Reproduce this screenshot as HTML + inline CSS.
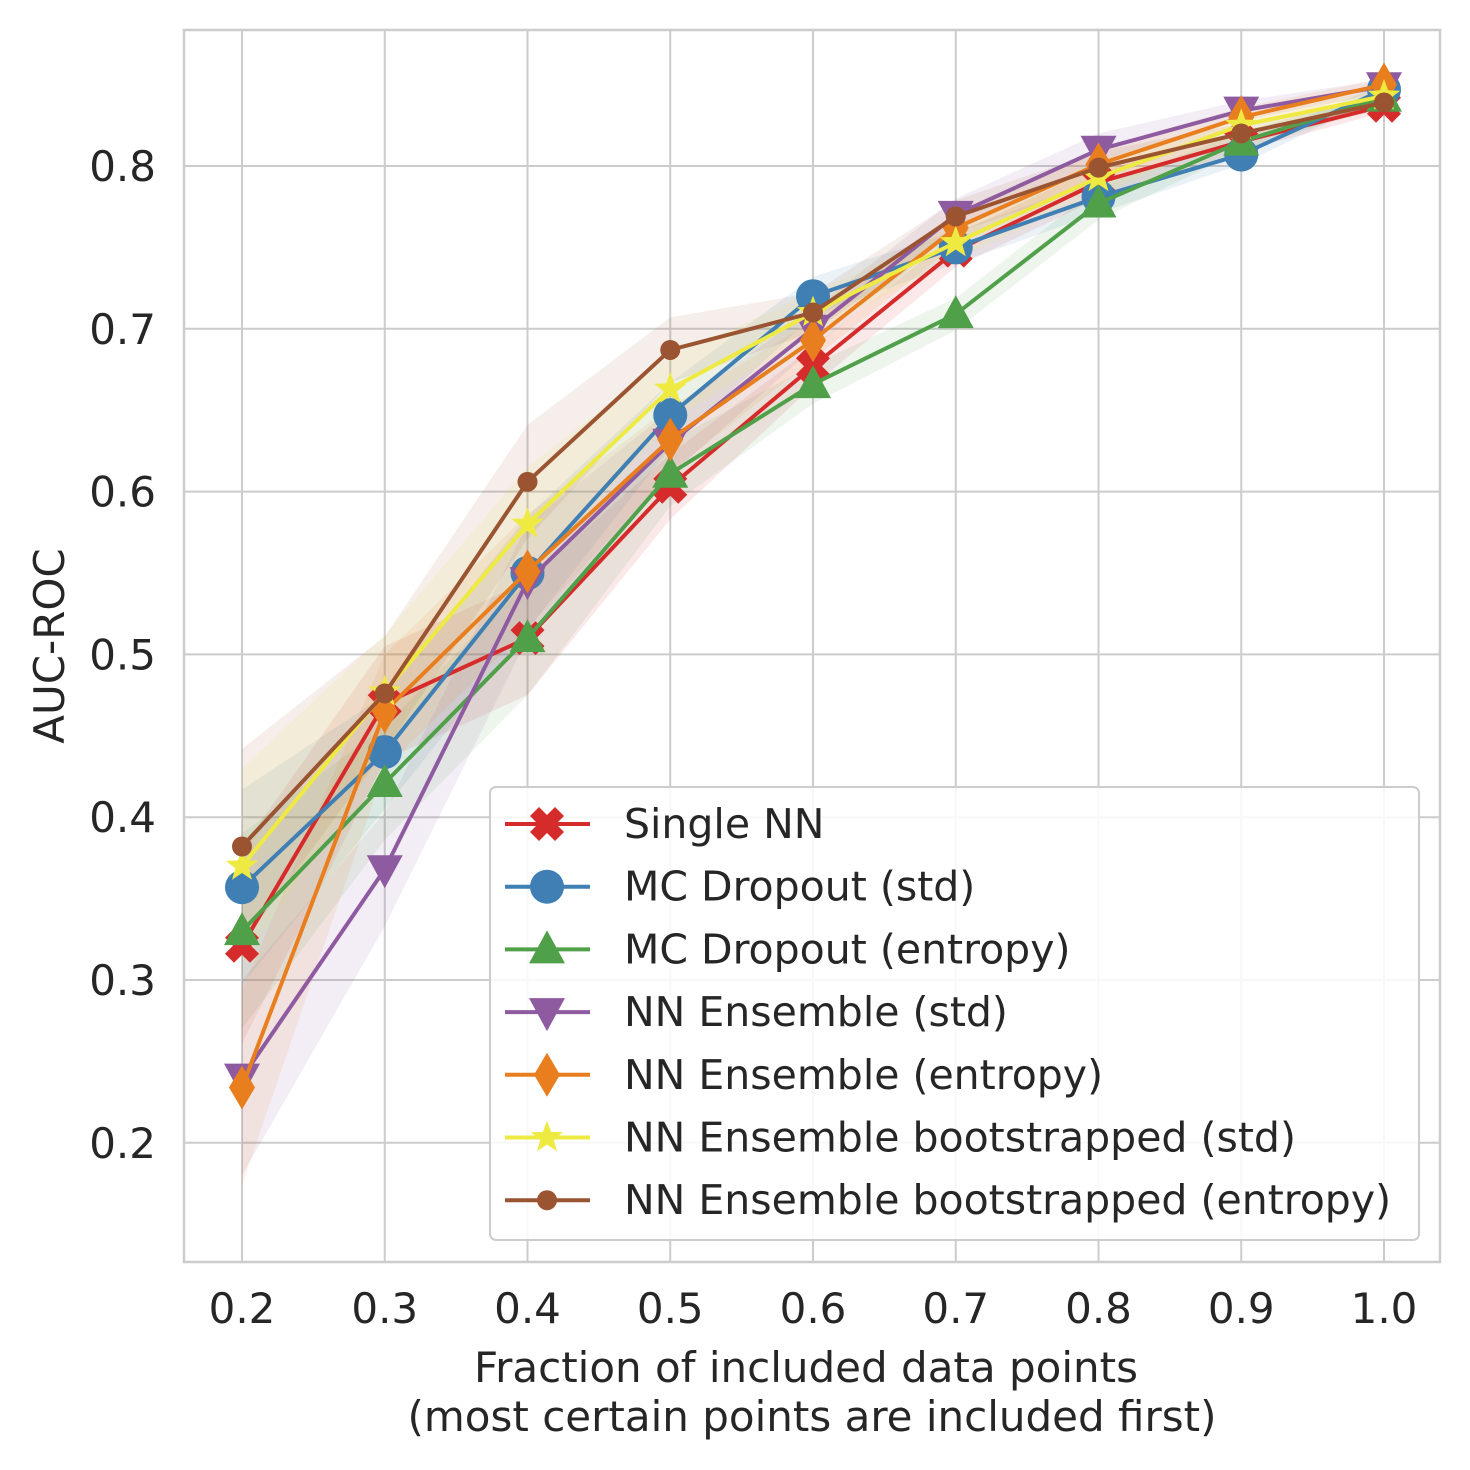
<!DOCTYPE html>
<html><head><meta charset="utf-8"><style>
body{margin:0;background:#fff}
svg{display:block;font-family:"DejaVu Sans","Liberation Sans",sans-serif}
</style></head><body>
<svg id="chart" width="1470" height="1470" viewBox="0 0 1470 1470" xmlns="http://www.w3.org/2000/svg"></svg>
<script>
const xValues=[0.2,0.3,0.4,0.5,0.6,0.7,0.8,0.9,1.0];
const xTicks=[0.2,0.3,0.4,0.5,0.6,0.7,0.8,0.9,1.0];
const xTickLabels=["0.2","0.3","0.4","0.5","0.6","0.7","0.8","0.9","1.0"];
const yTicks=[0.2,0.3,0.4,0.5,0.6,0.7,0.8];
const yTickLabels=["0.2","0.3","0.4","0.5","0.6","0.7","0.8"];
const seriesNames=["Single NN","MC Dropout (std)","MC Dropout (entropy)","NN Ensemble (std)","NN Ensemble (entropy)","NN Ensemble bootstrapped (std)","NN Ensemble bootstrapped (entropy)"];
const singleNN=[0.321,0.470,0.510,0.603,0.677,0.748,0.790,0.815,0.837];
const mcStd=[0.357,0.440,0.550,0.647,0.720,0.750,0.781,0.807,0.847];
const mcEntropy=[0.330,0.421,0.510,0.611,0.666,0.709,0.777,0.815,0.842];
const ensStd=[0.240,0.368,0.545,0.630,0.700,0.770,0.810,0.834,0.849];
const ensEntropy=[0.234,0.465,0.551,0.632,0.693,0.762,0.801,0.830,0.850];
const bootStd=[0.370,0.477,0.580,0.663,0.710,0.753,0.793,0.825,0.843];
const bootEntropy=[0.382,0.476,0.606,0.687,0.710,0.769,0.799,0.820,0.839];
const bandSpread=[0.06,0.035,0.035,0.02,0.012,0.01,0.01,0.006,0.004];
const series=[singleNN,mcStd,mcEntropy,ensStd,ensEntropy,bootStd,bootEntropy];
const colors=["#d62b2b","#3f7fb4","#50a04a","#8e5aa0","#e87e1e","#eeea42","#9a5432"];
const markers=["X","o","^","v","d","*","s"];
const NS="http://www.w3.org/2000/svg";
const svg=document.getElementById('chart');
const L=184,R=1440,T=30,B=1262;
function sx(v){return 242+(v-0.2)*1427.5;}
function sy(v){return 166+(0.8-v)*1628;}
function el(t,a,p){const e=document.createElementNS(NS,t);for(const k in a)e.setAttribute(k,a[k]);(p||svg).appendChild(e);return e;}
xTicks.forEach((t,i)=>{const g=el('line',{x1:sx(t),x2:sx(t),y1:T,y2:B,stroke:'#cccccc','stroke-width':2});

const tx=el('text',{x:sx(t),y:1323,'text-anchor':'middle','font-size':42,fill:'#262626'});tx.textContent=xTickLabels[i];
});
yTicks.forEach((t,i)=>{const g=el('line',{x1:L,x2:R,y1:sy(t),y2:sy(t),stroke:'#cccccc','stroke-width':2});

const tx=el('text',{x:156,y:sy(t)+15,'text-anchor':'end','font-size':42,fill:'#262626'});tx.textContent=yTickLabels[i];
});
const fr=el('rect',{x:L,y:T,width:R-L,height:B-T,fill:'none',stroke:'#cccccc','stroke-width':2.5});

series.forEach((s,i)=>{let up=s.map((v,j)=>sx(xValues[j])+','+sy(v+bandSpread[j]));let dn=s.map((v,j)=>sx(xValues[j])+','+sy(v-bandSpread[j])).reverse();
const b=el('polygon',{points:up.concat(dn).join(' '),fill:colors[i],opacity:0.1});
});
function marker(type,x,y,c,p){let e;
if(type==='o')e=el('circle',{cx:x,cy:y,r:17,fill:c},p);
else if(type==='s')e=el('circle',{cx:x,cy:y,r:10,fill:c},p);
else if(type==='^')e=el('polygon',{points:`${x},${y-19} ${x-18},${y+14} ${x+18},${y+14}`,fill:c},p);
else if(type==='v')e=el('polygon',{points:`${x},${y+19} ${x-18},${y-14} ${x+18},${y-14}`,fill:c},p);
else if(type==='d')e=el('polygon',{points:`${x},${y-22} ${x-13},${y} ${x},${y+22} ${x+13},${y}`,fill:c},p);
else if(type==='*'){let pts=[];for(let k=0;k<10;k++){const a=-Math.PI/2+k*Math.PI/5,r=k%2?7:17;pts.push((x+r*Math.cos(a))+','+(y+r*Math.sin(a)));}e=el('polygon',{points:pts.join(' '),fill:c},p);}
else {const a=17,w=9;e=el('path',{d:`M${x-a},${y-a+w}L${x-a+w},${y-a}L${x},${y-w}L${x+a-w},${y-a}L${x+a},${y-a+w}L${x+w},${y}L${x+a},${y+a-w}L${x+a-w},${y+a}L${x},${y+w}L${x-a+w},${y+a}L${x-a},${y+a-w}L${x-w},${y}Z`,fill:c},p);}
return e;}
series.forEach((s,i)=>{const g=el('g',{});
const ln=el('polyline',{points:s.map((v,j)=>sx(xValues[j])+','+sy(v)).join(' '),fill:'none',stroke:colors[i],'stroke-width':4,'stroke-linejoin':'round'},g);

s.forEach((v,j)=>{const m=marker(markers[i],sx(xValues[j]),sy(v),colors[i],g);});});
const lg=el('g',{});
el('rect',{x:490,y:787,width:929,height:453,rx:6,fill:'#fff','fill-opacity':0.85,stroke:'#cccccc','stroke-width':2},lg);
seriesNames.forEach((n,i)=>{const y=824+i*62.7;const g=el('g',{},lg);
el('line',{x1:505,x2:590,y1:y,y2:y,stroke:colors[i],'stroke-width':4},g);marker(markers[i],547,y,colors[i],g);
const t=el('text',{x:624,y:y+14,'font-size':41,fill:'#262626'},g);t.textContent=n;});
const yl=el('text',{x:0,y:0,transform:'translate(64,646) rotate(-90)','text-anchor':'middle','font-size':42,fill:'#262626'});yl.textContent='AUC-ROC';

const xl=el('text',{x:806,y:1382,'text-anchor':'middle','font-size':42,fill:'#262626'});xl.textContent='Fraction of included data points';

const xl2=el('text',{x:812,y:1431,'text-anchor':'middle','font-size':42,fill:'#262626'});xl2.textContent='(most certain points are included first)';

</script>
</body></html>
